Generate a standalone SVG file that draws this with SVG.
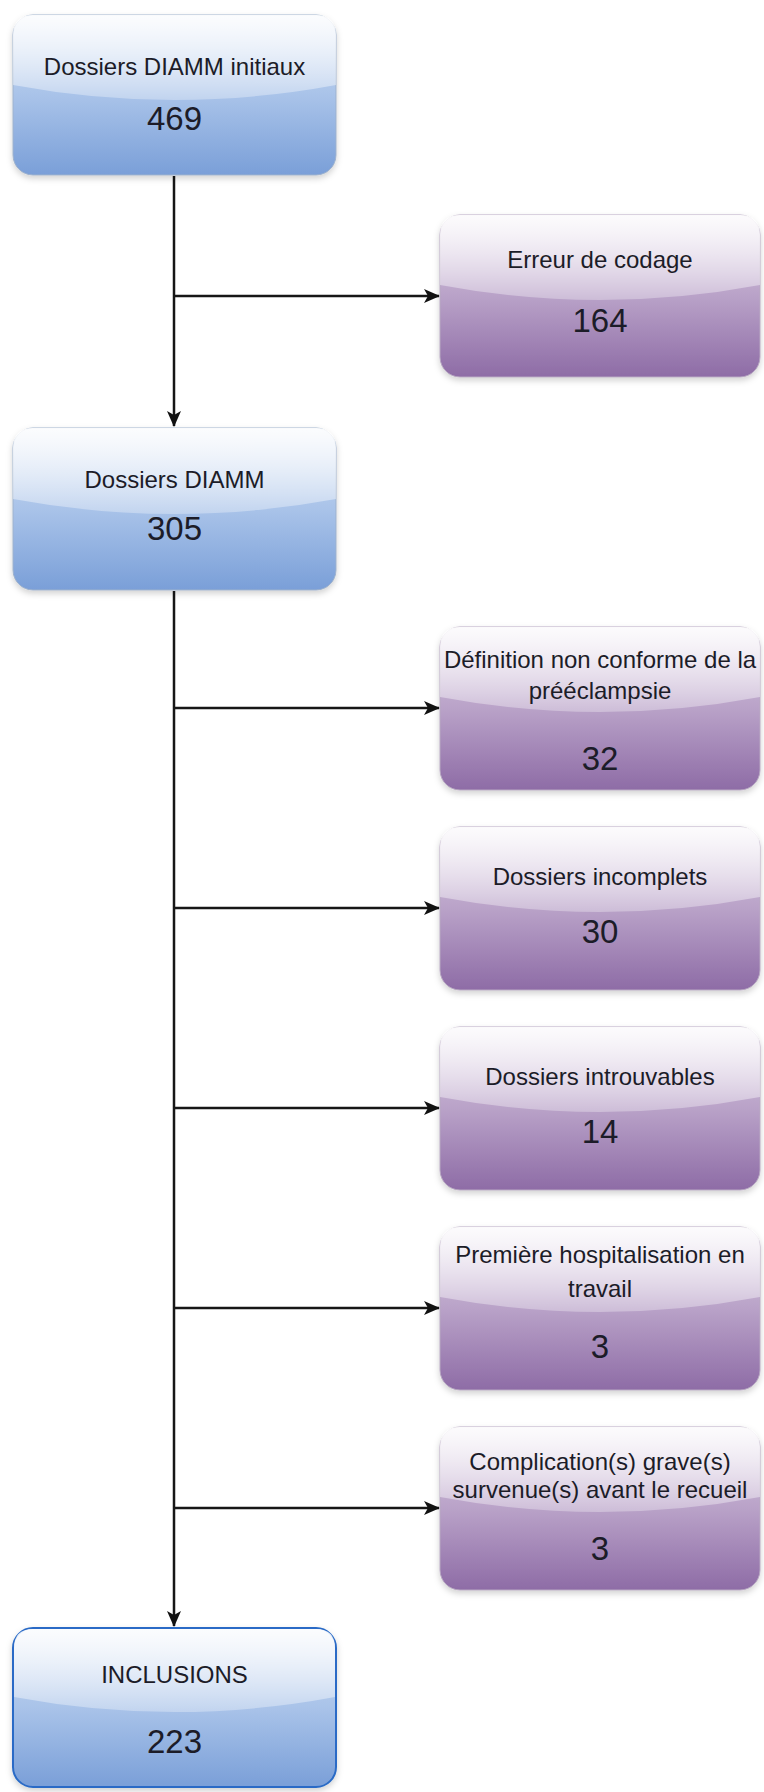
<svg xmlns="http://www.w3.org/2000/svg" width="764" height="1792" viewBox="0 0 764 1792">
<style>
.t{font-family:"Liberation Sans",Arial,sans-serif;font-size:24px;fill:#1c1c28;text-anchor:middle}
.n{font-family:"Liberation Sans",Arial,sans-serif;font-size:33px;fill:#1c1c28;text-anchor:middle}
.bb{fill:url(#gb);stroke:#9fb2cc;stroke-width:1}
.pb{fill:url(#gp);stroke:#b8a9c2;stroke-width:1}
.gl{fill:url(#gw)}
.c{stroke:#161616;stroke-width:2.5;fill:none}
</style>
<defs>
<linearGradient id="gb" x1="0" y1="0" x2="0" y2="1">
<stop offset="0" stop-color="#d3e0f3"/>
<stop offset="0.5" stop-color="#a9c3e9"/>
<stop offset="1" stop-color="#7a9fd8"/>
</linearGradient>
<linearGradient id="gp" x1="0" y1="0" x2="0" y2="1">
<stop offset="0" stop-color="#dccfe3"/>
<stop offset="0.5" stop-color="#b9a2c8"/>
<stop offset="1" stop-color="#8e6ca6"/>
</linearGradient>
<linearGradient id="gw" x1="0" y1="0" x2="0" y2="1">
<stop offset="0" stop-color="#ffffff" stop-opacity="0.92"/>
<stop offset="1" stop-color="#ffffff" stop-opacity="0.3"/>
</linearGradient>
<filter id="sh" x="-10%" y="-10%" width="120%" height="125%">
<feDropShadow dx="0" dy="3" stdDeviation="3" flood-color="#000" flood-opacity="0.18"/>
</filter>
<marker id="ah" markerUnits="userSpaceOnUse" markerWidth="16" markerHeight="14" refX="15" refY="7" orient="auto">
<path d="M0,0 L16,7 L0,14 L4,7 Z" fill="#111"/>
</marker>
</defs>

<g id="connectors">
<path class="c" d="M174,176 L174,426" marker-end="url(#ah)"/>
<path class="c" d="M174,296 L439,296" marker-end="url(#ah)"/>
<path class="c" d="M174,591 L174,1626" marker-end="url(#ah)"/>
<path class="c" d="M174,708 L439,708" marker-end="url(#ah)"/>
<path class="c" d="M174,908 L439,908" marker-end="url(#ah)"/>
<path class="c" d="M174,1108 L439,1108" marker-end="url(#ah)"/>
<path class="c" d="M174,1308 L439,1308" marker-end="url(#ah)"/>
<path class="c" d="M174,1508 L439,1508" marker-end="url(#ah)"/>
</g>

<g id="n1">
<rect class="bb" x="13" y="15" width="323" height="160" rx="20" filter="url(#sh)"/>
<path class="gl" d="M13,85 L13,35 Q13,15 33,15 L316,15 Q336,15 336,35 L336,85 Q174.5,115 13,85 Z"/>
<text class="t" x="174.5" y="75">Dossiers DIAMM initiaux</text>
<text class="n" x="174.5" y="130">469</text>
</g>

<g id="n2">
<rect class="pb" x="440" y="215" width="320" height="162" rx="20" filter="url(#sh)"/>
<path class="gl" d="M440,285 L440,235 Q440,215 460,215 L740,215 Q760,215 760,235 L760,285 Q600,315 440,285 Z"/>
<text class="t" x="600" y="268">Erreur de codage</text>
<text class="n" x="600" y="332">164</text>
</g>

<g id="n3">
<rect class="bb" x="13" y="428" width="323" height="162" rx="20" filter="url(#sh)"/>
<path class="gl" d="M13,499 L13,448 Q13,428 33,428 L316,428 Q336,428 336,448 L336,499 Q174.5,529 13,499 Z"/>
<text class="t" x="174.5" y="488">Dossiers DIAMM</text>
<text class="n" x="174.5" y="540">305</text>
</g>

<g id="n4">
<rect class="pb" x="440" y="627" width="320" height="163" rx="20" filter="url(#sh)"/>
<path class="gl" d="M440,697 L440,647 Q440,627 460,627 L740,627 Q760,627 760,647 L760,697 Q600,727 440,697 Z"/>
<text class="t" x="600" y="668">Définition non conforme de la</text>
<text class="t" x="600" y="699">prééclampsie</text>
<text class="n" x="600" y="770">32</text>
</g>

<g id="n5">
<rect class="pb" x="440" y="827" width="320" height="163" rx="20" filter="url(#sh)"/>
<path class="gl" d="M440,897 L440,847 Q440,827 460,827 L740,827 Q760,827 760,847 L760,897 Q600,927 440,897 Z"/>
<text class="t" x="600" y="885">Dossiers incomplets</text>
<text class="n" x="600" y="943">30</text>
</g>

<g id="n6">
<rect class="pb" x="440" y="1027" width="320" height="163" rx="20" filter="url(#sh)"/>
<path class="gl" d="M440,1097 L440,1047 Q440,1027 460,1027 L740,1027 Q760,1027 760,1047 L760,1097 Q600,1127 440,1097 Z"/>
<text class="t" x="600" y="1085">Dossiers introuvables</text>
<text class="n" x="600" y="1143">14</text>
</g>

<g id="n7">
<rect class="pb" x="440" y="1227" width="320" height="163" rx="20" filter="url(#sh)"/>
<path class="gl" d="M440,1297 L440,1247 Q440,1227 460,1227 L740,1227 Q760,1227 760,1247 L760,1297 Q600,1327 440,1297 Z"/>
<text class="t" x="600" y="1263">Première hospitalisation en</text>
<text class="t" x="600" y="1297">travail</text>
<text class="n" x="600" y="1358">3</text>
</g>

<g id="n8">
<rect class="pb" x="440" y="1427" width="320" height="163" rx="20" filter="url(#sh)"/>
<path class="gl" d="M440,1497 L440,1447 Q440,1427 460,1427 L740,1427 Q760,1427 760,1447 L760,1497 Q600,1527 440,1497 Z"/>
<text class="t" x="600" y="1470">Complication(s) grave(s)</text>
<text class="t" x="600" y="1498">survenue(s) avant le recueil</text>
<text class="n" x="600" y="1560">3</text>
</g>

<g id="n9">
<rect x="13" y="1628" width="323" height="159" rx="20" fill="url(#gb)" stroke="#2a6bc6" stroke-width="2" filter="url(#sh)"/>
<path class="gl" d="M14,1697 L14,1648 Q14,1629 33,1629 L316,1629 Q335,1629 335,1648 L335,1697 Q174.5,1727 14,1697 Z"/>
<text class="t" x="174.5" y="1683">INCLUSIONS</text>
<text class="n" x="174.5" y="1753">223</text>
</g>
</svg>
